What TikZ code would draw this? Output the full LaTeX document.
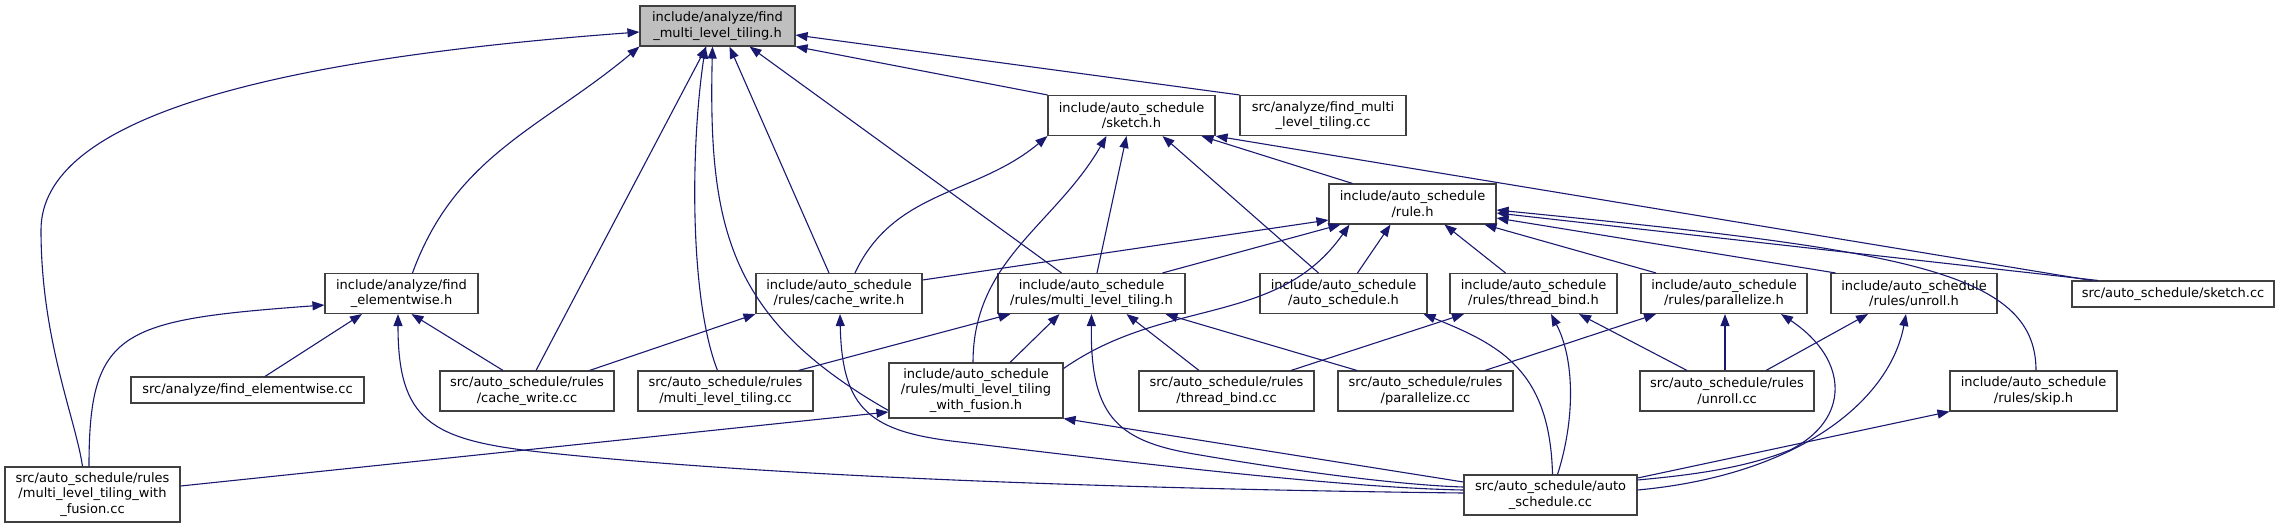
\documentclass[tikz,border=0pt]{standalone}
\usepackage{fontspec}
\setmainfont{DejaVu Sans}
\usetikzlibrary{arrows.meta}

\definecolor{edgeblue}{HTML}{191970}
\definecolor{curgrey}{HTML}{BFBFBF}
\definecolor{boxline}{HTML}{404040}

\begin{document}
\begin{tikzpicture}[
  x=1pt, y=-1pt,
  font=\fontsize{13}{15.5}\selectfont,
  >={Triangle[length=12pt,width=9pt]},
  file/.style={draw=boxline, fill=white, line width=1.1pt, align=center, inner sep=1pt},
  cur/.style={file, fill=curgrey},
  one/.style={minimum height=26pt},
  two/.style={minimum height=40pt},
  three/.style={minimum height=55pt},
  dep/.style={<-, draw=edgeblue, line width=1.1pt}
]
  \useasboundingbox (0,0) rectangle (2282,528);

  % header of interest
  \node[cur, two, minimum width=155pt] (main) at (717.5,26) {include/analyze/find\\\_multi\_level\_tiling.h};

  % second and third row
  \node[file, two, minimum width=167pt] (sketchh) at (1131.5,115.5) {include/auto\_schedule\\/sketch.h};
  \node[file, two, minimum width=166pt] (fmltcc) at (1323,115.5) {src/analyze/find\_multi\\\_level\_tiling.cc};
  \node[file, two, minimum width=167pt] (ruleh) at (1412.5,204) {include/auto\_schedule\\/rule.h};

  % headers row
  \node[file, two, minimum width=153pt] (feh) at (401.5,293.5) {include/analyze/find\\\_elementwise.h};
  \node[file, two, minimum width=166pt] (cwh) at (839,293.5) {include/auto\_schedule\\/rules/cache\_write.h};
  \node[file, two, minimum width=187pt] (mlth) at (1091.5,293.5) {include/auto\_schedule\\/rules/multi\_level\_tiling.h};
  \node[file, two, minimum width=167pt] (ash) at (1343.5,293.5) {include/auto\_schedule\\/auto\_schedule.h};
  \node[file, two, minimum width=167pt] (tbh) at (1533.5,293.5) {include/auto\_schedule\\/rules/thread\_bind.h};
  \node[file, two, minimum width=166pt] (parh) at (1724,293.5) {include/auto\_schedule\\/rules/parallelize.h};
  \node[file, two, minimum width=166pt] (unrollh) at (1914,293.5) {include/auto\_schedule\\/rules/unroll.h};
  \node[file, one, minimum width=202pt] (sketchcc) at (2173,294) {src/auto\_schedule/sketch.cc};

  % sources row
  \node[file, one, minimum width=233pt] (fecc) at (247.5,390) {src/analyze/find\_elementwise.cc};
  \node[file, two, minimum width=174pt] (cwcc) at (527,391) {src/auto\_schedule/rules\\/cache\_write.cc};
  \node[file, two, minimum width=175pt] (mltcc) at (725.5,391) {src/auto\_schedule/rules\\/multi\_level\_tiling.cc};
  \node[file, three, minimum width=174pt] (mltwfh) at (976,390.5) {include/auto\_schedule\\/rules/multi\_level\_tiling\\\_with\_fusion.h};
  \node[file, two, minimum width=175pt] (tbcc) at (1226.5,391) {src/auto\_schedule/rules\\/thread\_bind.cc};
  \node[file, two, minimum width=175pt] (parcc) at (1425.5,391) {src/auto\_schedule/rules\\/parallelize.cc};
  \node[file, two, minimum width=174pt] (unrollcc) at (1727,391) {src/auto\_schedule/rules\\/unroll.cc};
  \node[file, two, minimum width=167pt] (skiph) at (2033.5,391) {include/auto\_schedule\\/rules/skip.h};

  % bottom row
  \node[file, three, minimum width=175pt] (mltwfcc) at (92.5,494.5) {src/auto\_schedule/rules\\/multi\_level\_tiling\_with\\\_fusion.cc};
  \node[file, two, minimum width=173pt] (ascc) at (1550.5,495) {src/auto\_schedule/auto\\\_schedule.cc};

  % includers of main
  \draw[dep] ([yshift=-6pt]main.west) .. controls (260,60) and (41,120) .. (41,230)
    .. controls (41,340) and (76,420) .. ([xshift=-10pt]mltwfcc.north);
  \draw[dep] (main.south west) to[out=-140,in=70] ([xshift=11pt]feh.north);
  \draw[dep] ([xshift=-11pt]main.south) -- ([xshift=9pt]cwcc.north);
  \draw[dep] ([xshift=-12pt]main.south) .. controls (690,150) and (690,300) .. ([xshift=-8pt]mltcc.north);
  \draw[dep] ([xshift=-5pt]main.south) .. controls (708,230) and (730,320) .. ([yshift=-20pt]mltwfh.west);
  \draw[dep] ([xshift=12pt]main.south) -- ([xshift=-10pt]cwh.north);
  \draw[dep] ([xshift=32pt]main.south) -- ([xshift=-30pt]mlth.north);
  \draw[dep] (main.south east) -- (sketchh.north west);
  \draw[dep] ([yshift=-9pt]main.east) -- (fmltcc.north west);

  % includers of sketch.h
  \draw[dep] (sketchh.south west) to[out=-140,in=65] ([xshift=16pt]cwh.north);
  \draw[dep] ([xshift=-25pt]sketchh.south) to[out=-120,in=90] ([xshift=-3pt]mltwfh.north);
  \draw[dep] ([xshift=-5pt]sketchh.south) -- ([xshift=5.5pt]mlth.north);
  \draw[dep] ([xshift=31pt]sketchh.south) -- ([xshift=-25pt]ash.north);
  \draw[dep] ([xshift=70pt]sketchh.south) -- ([xshift=-60pt]ruleh.north);
  \draw[dep] (sketchh.south east) -- ([xshift=20pt]sketchcc.north west);

  % includers of rule.h
  \draw[dep] ([yshift=-16pt]ruleh.west) -- ([yshift=13.5pt]cwh.east);
  \draw[dep] ([xshift=-72pt]ruleh.south) -- ([xshift=71pt]mlth.north);
  \draw[dep] ([xshift=-63pt]ruleh.south) to[out=-125,in=35] ([yshift=22pt]mltwfh.east);
  \draw[dep] ([xshift=-22pt]ruleh.south) -- ([xshift=14pt]ash.north);
  \draw[dep] ([xshift=32pt]ruleh.south) -- ([xshift=-28pt]tbh.north);
  \draw[dep] ([xshift=72pt]ruleh.south) -- ([xshift=-68pt]parh.north);
  \draw[dep] ([yshift=-14pt]ruleh.east) -- ([xshift=5pt]unrollh.north west);
  \draw[dep] ([yshift=-6pt]ruleh.east) .. controls (1900,250) and (2036,270) .. ([xshift=2.5pt]skiph.north);
  \draw[dep] ([yshift=-9pt]ruleh.east) -- ([xshift=-75pt]sketchcc.north);

  % includers of find_elementwise.h
  \draw[dep] ([yshift=-11.5pt]feh.west) .. controls (120,320) and (89,330) .. ([xshift=-3.5pt]mltwfcc.north);
  \draw[dep] ([xshift=-39.5pt]feh.south) -- ([xshift=17.5pt]fecc.north);
  \draw[dep] ([xshift=10pt]feh.south) -- ([xshift=-24pt]cwcc.north);
  \draw[dep] ([xshift=-3.5pt]feh.south) .. controls (398,420) and (430,440) .. (540,452)
    .. controls (800,480) and (1200,490) .. ([yshift=2pt]ascc.west);

  % includers of cache_write.h
  \draw[dep] (cwh.south west) -- ([xshift=-25pt]cwcc.north east);
  \draw[dep] ([xshift=1pt]cwh.south) .. controls (842,410) and (870,432) .. (960,442)
    .. controls (1150,465) and (1350,488) .. ([yshift=5pt]ascc.west);

  % includers of multi_level_tiling.h
  \draw[dep] ([xshift=-81pt]mlth.south) -- ([xshift=-15pt]mltcc.north east);
  \draw[dep] ([xshift=-32pt]mlth.south) -- ([xshift=34pt]mltwfh.north);
  \draw[dep] (mlth.south) .. controls (1090,420) and (1120,442) .. (1200,455)
    .. controls (1300,472) and (1400,485) .. ([yshift=8pt]ascc.west);
  \draw[dep] ([xshift=35pt]mlth.south) -- ([xshift=-27.5pt]tbcc.north);
  \draw[dep] ([xshift=74pt]mlth.south) -- ([xshift=-68.5pt]parcc.north);

  % includers of multi_level_tiling_with_fusion.h
  \draw[dep] ([yshift=-21.5pt]mltwfh.west) -- ([yshift=8.5pt]mltwfcc.east);
  \draw[dep] (mltwfh.south east) -- ([yshift=13pt]ascc.west);

  % remaining rule headers
  \draw[dep] ([xshift=-4pt]ash.south east) .. controls (1500,345) and (1550,370) .. ([xshift=2pt]ascc.north);
  \draw[dep] ([xshift=-69.5pt]tbh.south) -- ([xshift=64.5pt]tbcc.north);
  \draw[dep] ([xshift=17.5pt]tbh.south) .. controls (1575,360) and (1575,420) .. ([xshift=7pt]ascc.north);
  \draw[dep] ([xshift=45.5pt]tbh.south) -- ([xshift=-40pt]unrollcc.north);
  \draw[dep] ([xshift=-68pt]parh.south) -- ([xshift=59.5pt]parcc.north);
  \draw[dep] ([xshift=1pt]parh.south) -- ([xshift=-2pt]unrollcc.north);
  \draw[dep] ([xshift=57pt]parh.south) .. controls (1850,360) and (1850,420) .. (1790,450)
    .. controls (1740,470) and (1680,476) .. ([yshift=15pt]ascc.east);
  \draw[dep] ([xshift=-46pt]unrollh.south) -- ([xshift=39pt]unrollcc.north);
  \draw[dep] ([xshift=-8pt]unrollh.south) .. controls (1890,400) and (1800,475) .. ([yshift=5pt]ascc.east);
  \draw[dep] (skiph.south west) -- ([yshift=17pt]ascc.east);
\end{tikzpicture}
\end{document}
